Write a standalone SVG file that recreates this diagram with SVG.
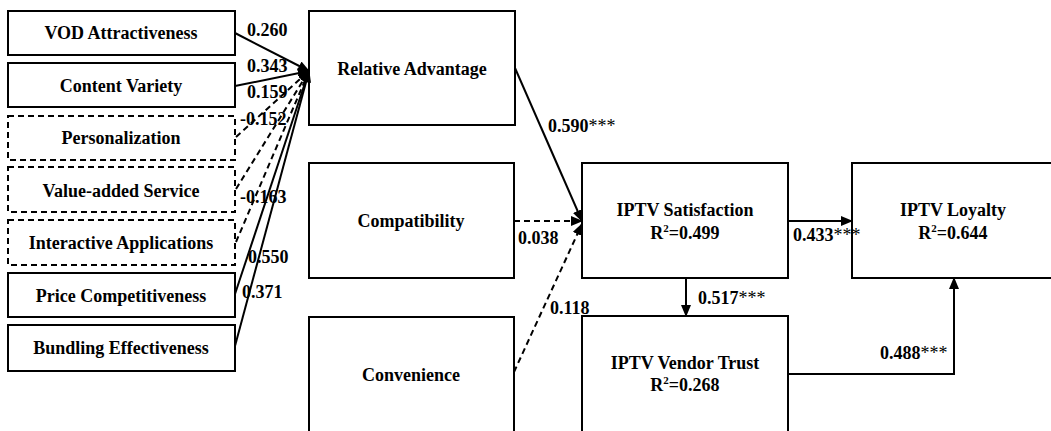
<svg xmlns="http://www.w3.org/2000/svg" width="1051" height="431" viewBox="0 0 1051 431">
<style>
.box{fill:#fff;stroke:#000;stroke-width:2}
.dbox{fill:#fff;stroke:#000;stroke-width:2;stroke-dasharray:6 4}
.t{font-family:"Liberation Serif","Times New Roman",serif;font-weight:bold;font-size:18px;fill:#000;text-anchor:middle}
.l{font-family:"Liberation Serif","Times New Roman",serif;font-weight:bold;font-size:18px;fill:#000}
.s{font-weight:normal;font-size:18px}
.c{fill:none;stroke:#000;stroke-width:2}
.d{fill:none;stroke:#000;stroke-width:2;stroke-dasharray:6 4}
</style>
<defs>
<marker id="ah" markerUnits="userSpaceOnUse" markerWidth="12" markerHeight="10" refX="11" refY="5" orient="auto">
<path d="M0,0 L12,5 L0,10 Z" fill="#000"/>
</marker>
</defs>
<rect width="1051" height="431" fill="#fff"/>
<g id="n-vod"><rect class="box" x="8" y="11" width="227" height="44"/><text class="t" x="121" y="39">VOD Attractiveness</text></g>
<g id="n-cv"><rect class="box" x="8" y="63" width="227" height="44"/><text class="t" x="121" y="92">Content Variety</text></g>
<g id="n-pers"><rect class="dbox" x="8" y="116" width="227" height="44"/><text class="t" x="121" y="144">Personalization</text></g>
<g id="n-vas"><rect class="dbox" x="8" y="167" width="227" height="45"/><text class="t" x="121" y="197">Value-added Service</text></g>
<g id="n-ia"><rect class="dbox" x="8" y="220" width="227" height="45"/><text class="t" x="121" y="249">Interactive Applications</text></g>
<g id="n-pc"><rect class="box" x="8" y="273" width="227" height="44"/><text class="t" x="121" y="302">Price Competitiveness</text></g>
<g id="n-be"><rect class="box" x="8" y="325" width="227" height="46"/><text class="t" x="121" y="354">Bundling Effectiveness</text></g>
<g id="n-ra"><rect class="box" x="309" y="11" width="206" height="114"/><text class="t" x="412" y="75">Relative Advantage</text></g>
<g id="n-comp"><rect class="box" x="309" y="163" width="205" height="115"/><text class="t" x="411" y="227">Compatibility</text></g>
<g id="n-conv"><rect class="box" x="309" y="317" width="205" height="125"/><text class="t" x="411" y="381">Convenience</text></g>
<g id="n-sat"><rect class="box" x="582" y="163" width="206" height="115"/><text class="t" x="685" y="216">IPTV Satisfaction</text><text class="t" x="685" y="239">R<tspan font-size="11" dy="-7">2</tspan><tspan dy="7">=0.499</tspan></text></g>
<g id="n-loy"><rect class="box" x="852" y="163" width="210" height="115"/><text class="t" x="953" y="216">IPTV Loyalty</text><text class="t" x="953" y="239">R<tspan font-size="11" dy="-7">2</tspan><tspan dy="7">=0.644</tspan></text></g>
<g id="n-trust"><rect class="box" x="582" y="316" width="206" height="126"/><text class="t" x="685" y="369">IPTV Vendor Trust</text><text class="t" x="685" y="391">R<tspan font-size="11" dy="-7">2</tspan><tspan dy="7">=0.268</tspan></text></g>
<g id="connectors">
<line class="c" x1="235" y1="33" x2="309" y2="71" marker-end="url(#ah)"/>
<line class="c" x1="235" y1="86" x2="309" y2="71" marker-end="url(#ah)"/>
<line class="d" x1="236" y1="137" x2="309" y2="71" marker-end="url(#ah)"/>
<line class="d" x1="236" y1="189" x2="309" y2="71" marker-end="url(#ah)"/>
<line class="d" x1="236" y1="242" x2="309" y2="71" marker-end="url(#ah)"/>
<line class="c" x1="235" y1="294" x2="309" y2="71" marker-end="url(#ah)"/>
<line class="c" x1="235" y1="346" x2="309" y2="71" marker-end="url(#ah)"/>
<line class="c" x1="515" y1="68" x2="582" y2="221" marker-end="url(#ah)"/>
<line class="d" x1="514" y1="221" x2="582" y2="221" marker-end="url(#ah)"/>
<line class="d" x1="514" y1="372" x2="582" y2="224" marker-end="url(#ah)"/>
<line class="c" x1="788" y1="221" x2="852" y2="221" marker-end="url(#ah)"/>
<line class="c" x1="686" y1="278" x2="686" y2="316" marker-end="url(#ah)"/>
<polyline class="c" points="788,374 954,374 954,278" marker-end="url(#ah)"/>
</g>
<g id="labels">
<text class="l" x="247" y="36">0.260</text>
<text class="l" x="247" y="72">0.343</text>
<text class="l" x="247" y="98">0.159</text>
<text class="l" x="240" y="125">-0.152</text>
<text class="l" x="240" y="203">-0.163</text>
<text class="l" x="248" y="263">0.550</text>
<text class="l" x="242" y="298">0.371</text>
<text class="l" x="548" y="132">0.590<tspan class="s">***</tspan></text>
<text class="l" x="518" y="244">0.038</text>
<text class="l" x="550" y="314">0.118</text>
<text class="l" x="793" y="241">0.433<tspan class="s">***</tspan></text>
<text class="l" x="698" y="304">0.517<tspan class="s">***</tspan></text>
<text class="l" x="880" y="359">0.488<tspan class="s">***</tspan></text>
</g>
</svg>
